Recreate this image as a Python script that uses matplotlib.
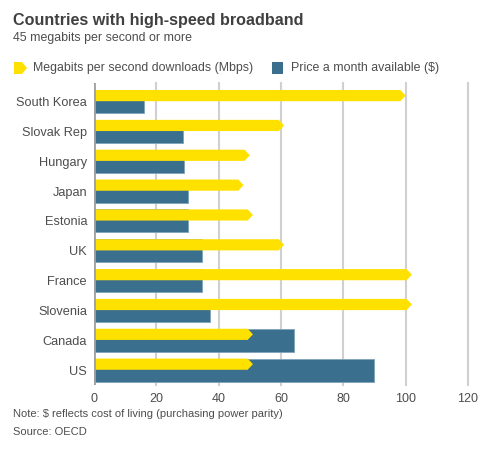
import matplotlib
matplotlib.use("Agg")
import matplotlib.pyplot as plt
from matplotlib.patches import Polygon, Rectangle

countries = ["South Korea", "Slovak Rep", "Hungary", "Japan", "Estonia",
             "UK", "France", "Slovenia", "Canada", "US"]
mbps = [100, 61, 50, 48, 51, 61, 102, 102, 51, 51]
price = [16, 28.7, 29, 30, 30, 34.5, 34.8, 37.1, 64.3, 89.8]
xticks = [0, 20, 40, 60, 80, 100, 120]

yellow = "#FFE100"
blue = "#3A6F8E"
grey_text = "#4d4d4d"

plt.rcParams['font.family'] = ['Liberation Sans', 'DejaVu Sans']

W, H = 502, 450
fig = plt.figure(figsize=(W / 100, H / 100), dpi=100)
ax = fig.add_axes([94 / W, 65 / H, 374 / W, 302 / H])

bh = 0.385
tip = 1.7
for i, (m, p) in enumerate(zip(mbps, price)):
    # blue bar spans the whole row, yellow arrow sits over the top half
    ax.add_patch(Rectangle((0, i - bh), p, 2 * bh, facecolor=blue,
                           edgecolor="#7fa3bb", linewidth=0.6, zorder=2))
    top, bot = i - bh, i - 0.01
    mid = (top + bot) / 2
    ax.add_patch(Polygon([(0, top), (m - tip, top), (m, mid), (m - tip, bot), (0, bot)],
                         closed=True, facecolor=yellow, edgecolor="none", zorder=3))

ax.set_xlim(0, 120)
ax.set_ylim(9.5, -0.62)
ax.set_xticks(xticks)
ax.set_xticklabels([str(t) for t in xticks], fontsize=9, color=grey_text)
ax.set_yticks(range(len(countries)))
ax.set_yticklabels(countries, fontsize=9.2, color=grey_text)
ax.tick_params(length=0, pad=5)
ax.tick_params(axis="x", pad=6)
for t in xticks[1:]:
    ax.axvline(t, color="#d0d0d0", linewidth=1.5, zorder=1, clip_on=False)
ax.axvline(0, color="#a0a0a0", linewidth=2, zorder=4)
for s in ax.spines.values():
    s.set_visible(False)

fig.text(13 / W, 1 - 20 / H, "Countries with high-speed broadband", fontsize=11.6,
         fontweight="bold", color="#404040", va="center")
fig.text(13 / W, 1 - 38 / H, "45 megabits per second or more", fontsize=8.9,
         color=grey_text, va="center")

# legend
ly = 1 - 68 / H
fig.patches.append(Polygon([(14 / W, 1 - 62 / H), (22 / W, 1 - 62 / H), (27 / W, ly),
                            (22 / W, 1 - 74 / H), (14 / W, 1 - 74 / H)],
                           closed=True, transform=fig.transFigure, facecolor=yellow,
                           edgecolor="none"))
fig.text(33 / W, ly, "Megabits per second downloads (Mbps)", fontsize=8.9,
         color=grey_text, va="center")
fig.patches.append(Rectangle((272 / W, 1 - 74 / H), 11 / W, 12 / H,
                             transform=fig.transFigure, facecolor=blue, edgecolor="none"))
fig.text(291 / W, ly, "Price a month available ($)", fontsize=8.9,
         color=grey_text, va="center")

fig.text(13 / W, 1 - 414 / H, "Note: $ reflects cost of living (purchasing power parity)",
         fontsize=8, color=grey_text, va="center")
fig.text(13 / W, 1 - 432 / H, "Source: OECD", fontsize=8, color=grey_text, va="center")

fig.savefig("out.png", dpi=100)
